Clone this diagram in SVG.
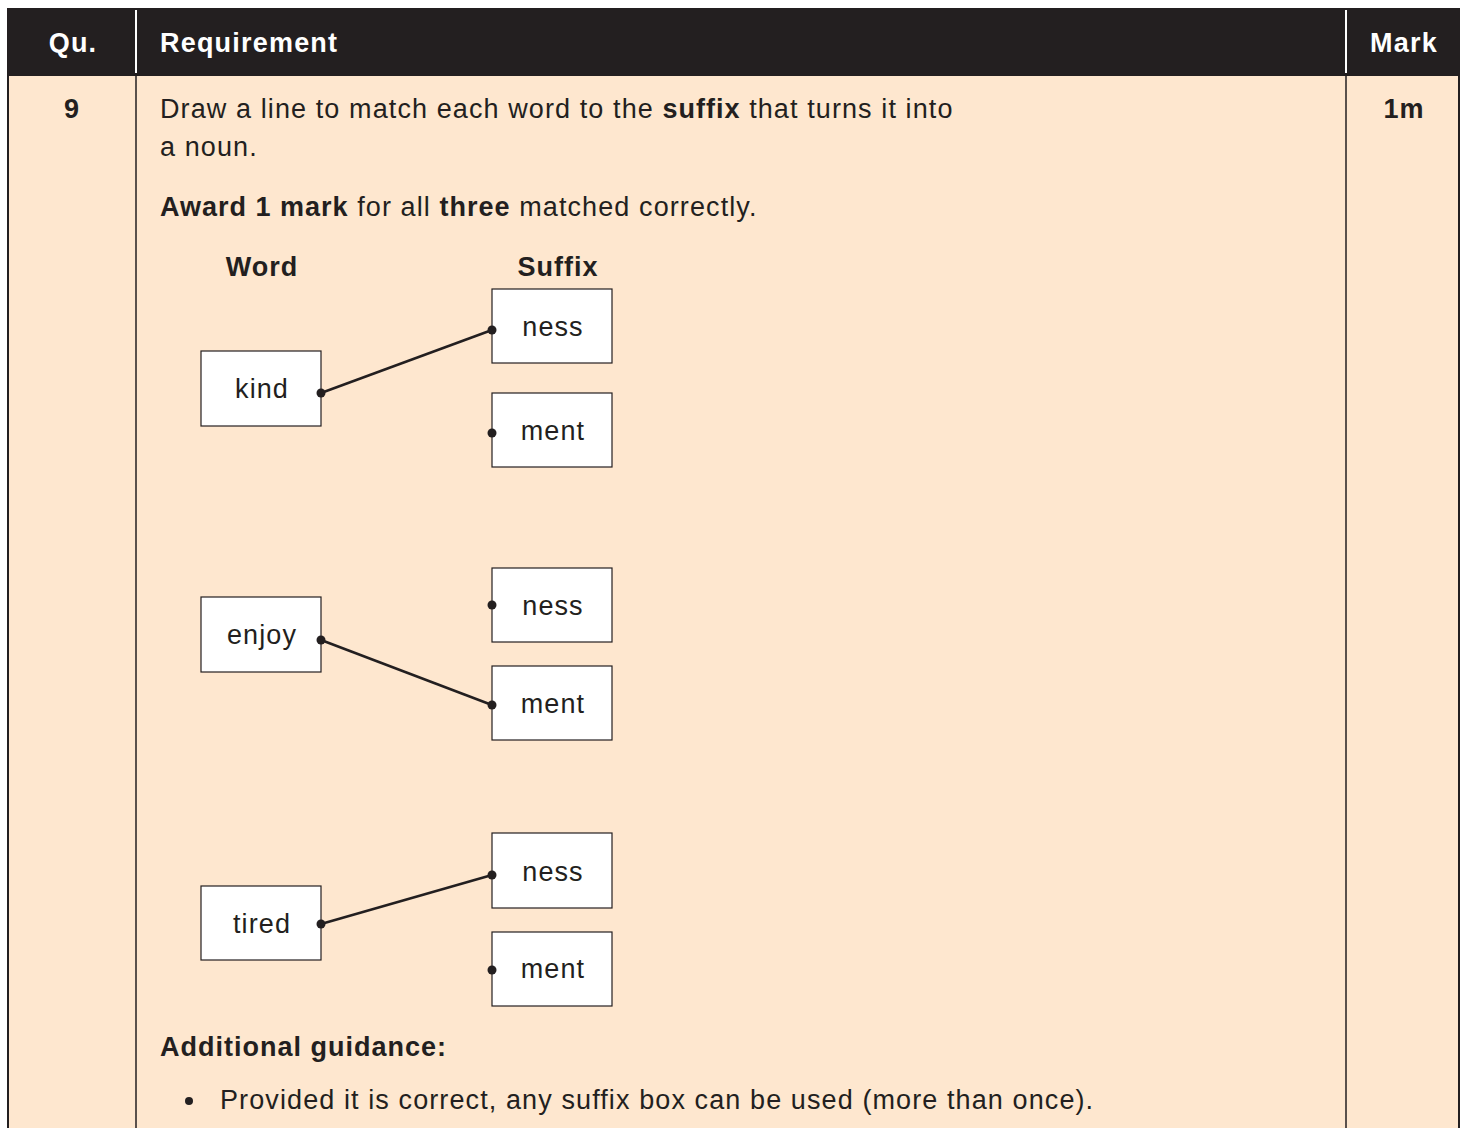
<svg xmlns="http://www.w3.org/2000/svg" width="1467" height="1128" viewBox="0 0 1467 1128">
<style>
text{font-family:"Liberation Sans",Arial,sans-serif;fill:#231f20;font-size:27px;letter-spacing:1.1px}
.b{font-weight:bold;letter-spacing:1px}
.h{fill:#fff;font-weight:bold;letter-spacing:1.2px}
.box{fill:#fff;stroke:#231f20;stroke-width:1.2}
.ln{stroke:#231f20;stroke-width:2.5;fill:none}
.dot{fill:#231f20}
.c{text-anchor:middle}
</style>
<rect x="0" y="0" width="1467" height="1128" fill="#fff"/>
<rect x="7" y="76" width="1453" height="1052" fill="#fee7cf"/>
<rect x="7" y="8" width="1453" height="68" fill="#231f20"/>
<line x1="136" y1="10" x2="136" y2="73" stroke="#fff" stroke-width="2"/>
<line x1="1346" y1="10" x2="1346" y2="73" stroke="#fff" stroke-width="2"/>
<line x1="8" y1="76" x2="8" y2="1128" stroke="#231f20" stroke-width="2"/>
<line x1="136" y1="76" x2="136" y2="1128" stroke="#231f20" stroke-width="1.5"/>
<line x1="1346" y1="76" x2="1346" y2="1128" stroke="#231f20" stroke-width="1.5"/>
<line x1="1459" y1="76" x2="1459" y2="1128" stroke="#231f20" stroke-width="2"/>
<text class="h c" x="73" y="52">Qu.</text>
<text class="h" x="160" y="52">Requirement</text>
<text class="h c" x="1404" y="52">Mark</text>
<text class="b c" x="72" y="118">9</text>
<text class="b c" x="1404" y="118">1m</text>
<text x="160" y="118">Draw a line to match each word to the <tspan class="b">suffix</tspan> that turns it into</text>
<text x="160" y="156">a noun.</text>
<text x="160" y="216"><tspan class="b">Award 1 mark</tspan> for all <tspan class="b">three</tspan> matched correctly.</text>
<text class="b c" x="262" y="276">Word</text>
<text class="b c" x="558" y="276">Suffix</text>
<g id="kind"><rect class="box" x="201" y="351" width="120" height="75"/><text class="c" x="262" y="398">kind</text></g>
<g id="ness1"><rect class="box" x="492" y="289" width="120" height="74"/><text class="c" x="553" y="336">ness</text></g>
<g id="ment1"><rect class="box" x="492" y="393" width="120" height="74"/><text class="c" x="553" y="440">ment</text></g>
<g id="enjoy"><rect class="box" x="201" y="597" width="120" height="75"/><text class="c" x="262" y="644">enjoy</text></g>
<g id="ness2"><rect class="box" x="492" y="568" width="120" height="74"/><text class="c" x="553" y="615">ness</text></g>
<g id="ment2"><rect class="box" x="492" y="666" width="120" height="74"/><text class="c" x="553" y="713">ment</text></g>
<g id="tired"><rect class="box" x="201" y="886" width="120" height="74"/><text class="c" x="262" y="933">tired</text></g>
<g id="ness3"><rect class="box" x="492" y="833" width="120" height="75"/><text class="c" x="553" y="881">ness</text></g>
<g id="ment3"><rect class="box" x="492" y="932" width="120" height="74"/><text class="c" x="553" y="978">ment</text></g>
<g id="connectors">
<line class="ln" x1="321" y1="393" x2="492" y2="330"/>
<line class="ln" x1="321" y1="640" x2="492" y2="705"/>
<line class="ln" x1="321" y1="924" x2="492" y2="875"/>
<circle class="dot" cx="321" cy="393" r="4.5"/><circle class="dot" cx="492" cy="330" r="4.5"/><circle class="dot" cx="492" cy="433" r="4.5"/>
<circle class="dot" cx="321" cy="640" r="4.5"/><circle class="dot" cx="492" cy="605" r="4.5"/><circle class="dot" cx="492" cy="705" r="4.5"/>
<circle class="dot" cx="321" cy="924" r="4.5"/><circle class="dot" cx="492" cy="875" r="4.5"/><circle class="dot" cx="492" cy="970" r="4.5"/>
</g>
<text class="b" x="160" y="1056">Additional guidance:</text>
<circle class="dot" cx="189" cy="1101" r="4"/>
<text x="220" y="1109">Provided it is correct, any suffix box can be used (more than once).</text>
</svg>
